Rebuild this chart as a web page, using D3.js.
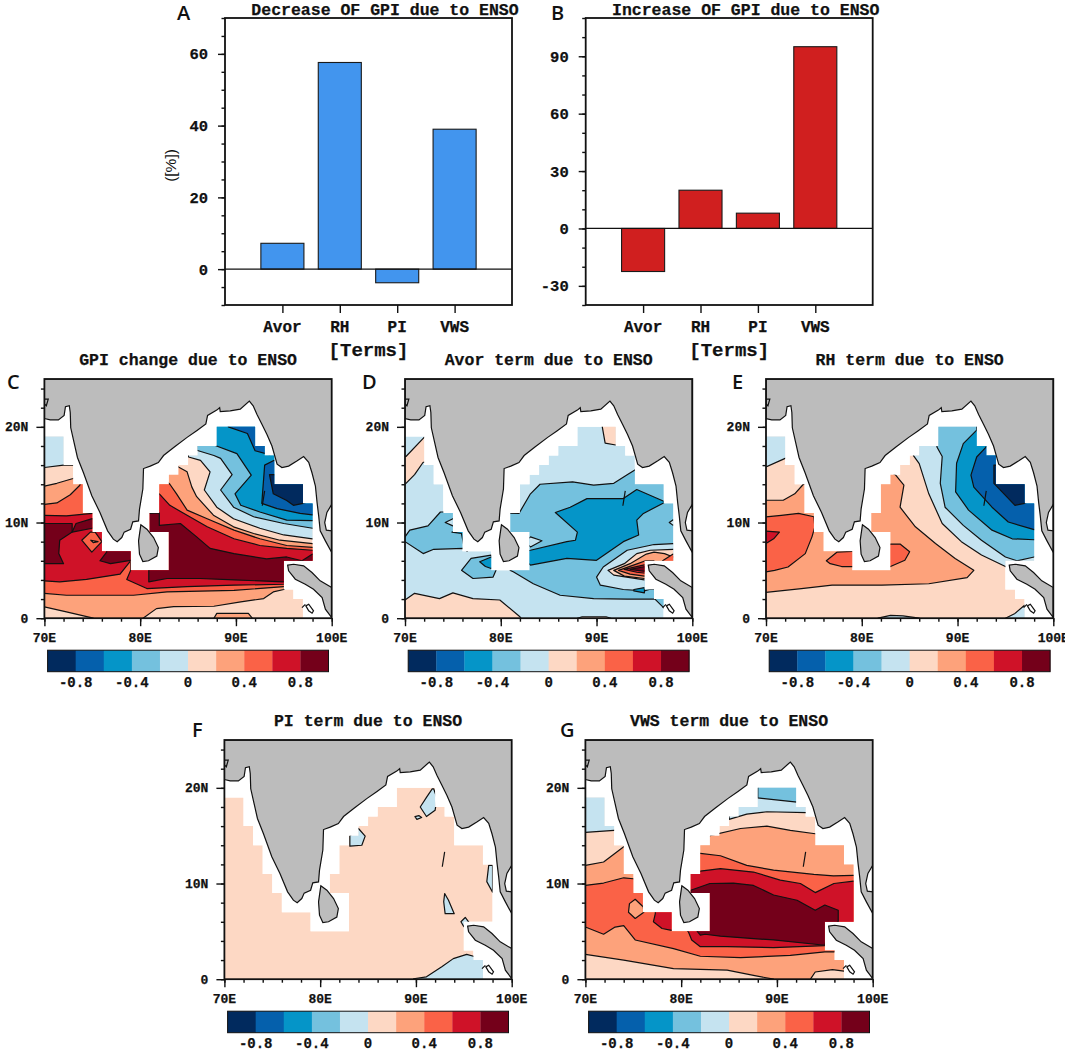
<!DOCTYPE html>
<html><head><meta charset="utf-8">
<style>html,body{margin:0;padding:0;background:#fff}svg{display:block}</style>
<script src="https://cdnjs.cloudflare.com/ajax/libs/d3/7.8.5/d3.min.js"></script>
</head><body>
<svg id="c" width="1065" height="1051"></svg>
<script>
// ---------- bar chart data ----------
const terms = ["Avor","RH","PI","VWS"];
const decreaseValues = [7.2,57.6,-3.8,39];
const increaseValues = [-22.5,20,8,95];
const decreaseTicks = [0,20,40,60];
const increaseTicks = [-30,0,30,60,90];

// ---------- colour levels ----------
const levelColors = ["#012a5e","#0560ac","#0595c8","#74c1de","#c5e3f0","#fdd8c4","#fda27b","#fa6247","#cf1228","#74001a"];
const barLabels = [-0.8,-0.4,0,0.4,0.8];

// ---------- geography, lon/lat ----------
const seaMask = [[70,0],[70,19],[72,19],[72,16],[73,16],[73,14],[74,14],[74,11],[75,11],[75,9],[76,9],[76,7],[79,7],[79,5],[83,5],[83,9],[81,9],[81,11],[82,11],[82,14],[83,14],[83,15],[84,15],[84,16],[85,16],[85,17],[86,17],[86,18],[88,18],[88,20],[92,20],[92,18],[93,18],[93,17],[94,17],[94,14],[97,14],[97,12],[98,12],[98,6],[95,6],[95,3],[96,3],[96,2],[97,2],[97,0]];
const mainland = [[70,20.87],[70.6,20.73],[71.46,20.73],[72.06,21.2],[72.2,22.1],[72.6,22.2],[72.7,21.5],[72.75,19.9],[73.1,18.36],[73.45,16.8],[74.08,15.2],[74.95,12.8],[75.8,11.05],[76.6,9.13],[77.2,8.26],[77.6,8],[78.08,8.43],[78.33,9],[79,9.3],[79.23,10.07],[79.83,10.17],[79.93,11.4],[80.28,13.5],[80.35,15.64],[81.05,15.9],[81.9,16.27],[82.44,17],[83.5,17.84],[84.9,18.9],[85.9,19.6],[86.86,20.3],[87.04,21.2],[88,21.75],[88.3,22],[88.36,21.6],[89.4,21.67],[90.45,21.85],[91.4,22.7],[91.8,22.2],[92.2,21.3],[92.7,20.3],[93.24,19.2],[93.76,18],[94.3,16.1],[94.8,15.75],[95.5,15.9],[96.4,16.45],[97.07,16.9],[97.6,16.3],[97.94,15.2],[98.3,13.8],[98.47,12.1],[98.64,10.7],[98.8,9.13],[99.34,8.08],[100,6.86],[100,25],[70,25]];
const gulfThailand = [[100,11.9],[99.5,11.05],[99.27,10],[99.44,9.2],[100,9.13]];
const sriLanka = [[80.07,9.76],[80.7,9.3],[81.4,8.43],[81.9,7.39],[81.74,6.5],[80.87,6],[80.28,5.92],[79.93,6.69],[79.83,8.08]];
const sumatra = [[95.4,5.54],[96.03,5.64],[97.07,5.47],[97.94,4.77],[98.8,3.9],[100,3.2],[100,0.07],[99.34,0.94],[99,2.16],[98.1,3.03],[97.24,3.55],[96.2,4.08],[95.5,4.95]];
const nias = [[97.3,1.29],[97.6,1.46],[98.1,0.77],[97.95,0.52],[97.6,0.77]];
const andaman = [[93,13.3],[92.75,11.75]];
const kutch = [[70,22.9],[70.4,22.9],[70.2,22.2],[70,22.4]];
const islet = [[96.9,1.1],[97.25,1.45]];

// ---------- contour bands: [mid level, lon/lat ring], painted in order ----------
const gpiBase = 0.1;
const gpiBands = [
[0.3,[[69,1.2],[70,1.18],[72.3,0.66],[75.1,0],[75.3,-1],[80.3,-1],[80.3,0],[81.7,1],[83.5,1.2],[87.7,1.25],[90.5,1.7],[92.9,2.05],[93.9,2.75],[95,3],[95.5,3.5],[101,3.5],[101,7.8],[98,7.8],[94.6,8.15],[91.85,8.85],[89.75,9.55],[87.65,10.77],[85.9,12.7],[85.4,13.7],[84.9,15.3],[84,15.8],[83,17],[75,17],[74,15],[73,14.6],[71.3,14.1],[70,13.8],[69,13.8]]],
[0.3,[[87.7,0],[88,0.5],[91.3,0.5],[91.7,0],[91.7,-1],[87.7,-1]]],
[0.5,[[69,2.6],[70,2.6],[72.3,2.4],[75.8,2.4],[79.3,2.4],[82.8,2.75],[89.8,2.9],[95,3.3],[96,4],[101,4],[101,7.5],[98,7.4],[95.3,7.6],[92.5,8.3],[89.8,9.2],[87,10.4],[84.9,11.3],[83.8,13],[83.1,14],[82,15],[74,15],[73.7,13.9],[72.7,12.9],[71.3,12.05],[70,11.9],[69,11.9]]],
[0.7,[[69,3.9],[70,3.9],[71.6,3.8],[74.4,4.05],[77.9,4.6],[79,6],[79,5],[78.6,4.05],[80.7,3.1],[84.9,3.3],[89.8,3.45],[95,3.55],[96,4],[101,4],[101,7.2],[98,7.1],[95.3,7.3],[92.5,7.6],[89.8,8.3],[87,9.55],[84.9,10.75],[83.1,11.8],[82,13],[81.5,13],[81,12],[76,12],[75,10.95],[72.3,10.7],[70,10.75],[69,10.75]]],
[0.5,[[73.9,8.15],[74.8,9],[75.3,9],[76,8],[74.95,6.9]]],
[0.3,[[74.85,8.15],[75.6,8],[75.1,7.9]]],
[0.9,[[80.5,11],[81,10.95],[82,11],[82,9.7],[84.2,9.9],[85.9,8.5],[87.3,7.3],[89.8,6.75],[93.2,6.2],[95.3,6.4],[96.9,6],[98,6.7],[99,6.7],[99,3.7],[95,3.8],[89.8,4],[86.3,4.15],[82.8,4.15],[80.9,3.8],[80.9,5],[80.5,9]]],
[0.9,[[69,9.9],[70,9.9],[72.9,9.9],[72.9,9],[71.6,8.15],[71.5,6.75],[72,5.7],[70,5.7],[69,5.7]]],
[0.9,[[73.3,9.9],[75,10.4],[75.5,10.4],[75.5,9.4],[75,9.4],[72.9,9]]],
[0.9,[[75.8,6],[76.5,6.9],[76.5,7.5],[79.5,7.5],[79.5,6.1],[79,6.05],[76.9,5.7]]],
[-0.1,[[85,17.2],[85.05,16.85],[86.3,16.5],[87.3,15.3],[86.7,13.4],[88,11.6],[89.75,10.4],[92.5,9.4],[95,8.7],[98,8.3],[100,8.3],[100,21],[85,21]]],
[-0.1,[[69,15.9],[70,15.75],[72,16],[73,16],[73,20],[69,20]]],
[-0.3,[[85.9,18.5],[85.9,17.55],[87.7,17],[88.4,16.7],[89.6,15],[88.4,13.4],[89.75,11.6],[91.85,10.6],[95,9.9],[98,9.4],[100,9.4],[100,21],[85.9,21]]],
[-0.5,[[87.7,21],[87.7,18.1],[90.1,17.2],[91.6,14.95],[89.9,13],[90.5,11.8],[92.5,11.1],[95.3,10.25],[98,10.2],[100,10.2],[100,21]]],
[-0.7,[[89.2,20.5],[89.2,20],[91.2,19.3],[92,17.5],[93.5,17.1],[93.5,21]]],
[-0.7,[[94,16.5],[93,16],[92.7,12],[94.3,11.45],[96.7,10.95],[98,10.8],[100,10.8],[100,16.5]]],
[-0.9,[[93.5,15],[93.9,13],[95.3,12.3],[96,11.8],[97,12],[98,12.3],[98,15]]]
];

const avorBase = -0.1;
const avorBands = [
[0.1,[[69,1.9],[70,1.9],[71,2.6],[73.6,2.05],[75,2.65],[77.1,2.05],[79.9,1.9],[82,0.15],[82.8,-1],[69,-1]]],
[0.1,[[69.5,14],[70,14],[71,15],[71.9,16.3],[73,16.3],[73,19.5],[72,18.9],[70.1,16.9],[69.5,16.9]]],
[0.1,[[90.6,21],[90.6,20],[90.9,18.3],[92,18.1],[92.5,18.1],[92.5,21]]],
[0.1,[[88,-1],[88,0],[88.5,0.15],[91,0.15],[91.5,0],[91.5,-1]]],
[-0.3,[[80.5,11],[81.9,10.95],[83.1,13],[84.1,14],[87.5,14.25],[89.7,13.9],[91.8,14.1],[93.2,15],[94,15.5],[99,15.5],[99,1],[97.1,1],[96.1,2],[93.2,2],[89.7,2.05],[86.2,2.4],[83.4,3.6],[81.3,4.85],[81,5],[80.5,5.5]]],
[-0.3,[[70,8.5],[70.5,9.2],[72.4,9.65],[73.7,11.1],[75,11.1],[76,11],[76.5,7],[76.1,7.3],[73,7.2],[71.9,6.75],[70,8],[69,8],[69,8.5]]],
[-0.1,[[75,10.4],[74.2,10],[75,9.65],[76,10]]],
[-0.5,[[74.9,9],[75.9,8.85],[76.1,7.8],[76.5,8],[76.5,9.2]]],
[-0.3,[[75.9,5],[76.9,6.25],[79,6.6],[79.5,6],[79.5,5],[79.2,4.3],[77.1,4.15]]],
[-0.5,[[77.8,5.9],[79,6.4],[79.5,6],[79.5,5.4],[79,5.2],[78.4,5.4]]],
[-0.1,[[83.1,8.5],[84.3,8.1],[83.1,7.45],[82.5,8]]],
[-0.5,[[85.7,11.05],[87.25,11.6],[89,12.5],[92.8,12.5],[94.2,13.45],[97.2,12.15],[94.9,10.95],[94.2,10.25],[94.4,8.7],[92.8,8],[90,6.05],[86.9,6.25],[83.1,5.55],[82.5,6],[82.5,7],[83.1,7.1],[86.9,8],[87.8,8.15],[88,9]]],
[-0.1,[[98,10.3],[97.6,10],[98,9.7],[98.5,10]]],
[-0.1,[[98,7.8],[96,7.7],[93.2,7.1],[90.7,5.35],[90,4.3],[90.4,3.45],[92.8,3],[95,2.85],[95.5,3],[99,3],[99,7.8]]],
[-0.5,[[93.9,3],[95,3.2],[95,2.65],[93.9,2.85]]],
[0.1,[[91.2,5],[92.9,5.7],[94.2,6.75],[95.6,7.1],[98,7.2],[99,7.2],[99,5],[95,4],[91.8,4.5]]],
[0.3,[[91.8,5],[93.5,5.7],[95.2,6.7],[96,6.9],[97.1,6.75],[98,6.4],[99,6.4],[99,5],[95,4.15],[92.9,4.4]]],
[0.5,[[92.3,5],[94.3,5.7],[95.1,6],[96,6],[95.5,4.3],[95,4.4],[93.5,4.6]]],
[0.5,[[96.9,6],[98,6.7],[99,6.7],[99,5.5],[96.9,5.5]]],
[0.7,[[92.9,5.1],[95.1,5.6],[95.5,5],[95.1,4.7],[94.2,4.8]]],
[0.9,[[93.5,5.1],[95.1,5.4],[95.1,4.9]]]
];

const rhBase = 0.1;
const rhBands = [
[-0.1,[[69,15.8],[70,15.8],[72,16.7],[73,17],[73,20],[69,20]]],
[-0.1,[[95,-1],[95,0],[96,0.5],[97,1.35],[97.5,1],[97.5,-1]]],
[-0.1,[[81.7,-1],[81.7,0],[83,0.3],[84.3,0.25],[86,0],[86,-1]]],
[0.3,[[83,15.3],[83.5,15],[84.4,13.9],[84,11.6],[85.6,9.55],[87.7,7.8],[89.75,6.25],[91.7,5],[91,4.25],[87,3.6],[82.1,3.45],[76.9,3.45],[73.7,3.1],[70,2.7],[69,2.7],[69,12.33],[70,12.33],[71.8,12.33],[73,13],[73.9,14],[76,14],[76,15.3]]],
[0.5,[[69,10.6],[70,10.6],[71.6,10.75],[73.4,10.95],[75,10.6],[75.1,9.55],[74.8,8.5],[74.1,6.75],[72.3,5.35],[70.9,5],[70,4.85],[69,4.85]]],
[0.7,[[69,9.1],[70,9.1],[71.4,9],[70.8,8.3],[70,7.8],[69,7.8]]],
[0.5,[[76.3,6],[77.4,6.9],[79.5,7],[79.5,5.4],[77.9,5.4],[76.7,5.7]]],
[0.5,[[82.5,7.75],[84,7.75],[85,6.95],[84.5,6.05],[83,5.4],[82.5,5.4]]],
[-0.1,[[85.4,21],[85.4,17],[86,16.15],[87,13],[88.4,9.9],[90.4,8],[92.5,6.6],[95,5.4],[96,5.5],[100,5.5],[100,21]]],
[-0.3,[[87.85,21],[87.85,17.9],[88.4,16.9],[88.2,14.1],[88.7,11.6],[90.6,9.7],[92.5,8.15],[95,6.4],[96.2,6],[98,6.4],[100,6.4],[100,21]]],
[-0.5,[[92,21],[92,19.65],[90.6,18.25],[89.9,16.2],[89.8,13.2],[91.15,11.3],[93.6,9.2],[95.7,8.3],[98,8.2],[100,8.2],[100,21]]],
[-0.7,[[93,18.5],[93,17.9],[92,16.85],[91.4,14.95],[91.7,13.7],[93.6,11.6],[95.3,10.05],[98,9.25],[100,9.25],[100,20]]],
[-0.9,[[93.8,16],[93.8,15.1],[93.8,14.1],[96,11.8],[97,12],[98,12.5],[98,16]]]
];

const piBase = 0.1;
const piBands = [
[-0.1,[[91.1,19],[90.45,18],[91.1,17],[92,17.65],[92.2,18.9],[91.85,19.9],[91.7,19.9]]],
[-0.1,[[89.9,17],[90.3,17.1],[90.6,16.9],[90.1,16.7]]],
[-0.1,[[83.1,15],[84,15.75],[84.7,14.95],[84.35,14],[83.1,13.9]]],
[-0.1,[[97.6,11.9],[98,11.9],[98,9.1],[97.4,10.2]]],
[-0.1,[[93,8.95],[93.4,8.25],[94,6.85],[93.05,6.85],[92.9,8.1]]],
[-0.1,[[94.7,6],[95.15,6.45],[95.5,6],[95,5.5]]],
[-0.1,[[89.75,-1],[89.75,0.05],[91.1,0.25],[92.7,1.3],[93.9,2.15],[95.3,2.6],[96.2,2.35],[97.5,2],[97.5,-1]]]
];

const vwsBase = 0.1;
const vwsBands = [
[-0.1,[[69,15.35],[70,15.35],[73,15.55],[73.5,15.55],[73.5,20],[69,20]]],
[-0.1,[[85,21],[85,16.7],[86.85,17.25],[88.95,17.5],[93.1,17.4],[94,17.4],[94,21]]],
[-0.3,[[88,21],[88,18.95],[92.1,18.5],[93,18.5],[93,21]]],
[0.3,[[83,15],[86.2,15.75],[88.95,16],[91.4,15.55],[94,15.2],[99,15.2],[99,0.85],[97,0.85],[95.8,1],[94,0.75],[93.5,0],[93.5,-1],[89.65,-1],[89.65,0],[87.55,0.4],[84.8,0.95],[79.2,1.1],[74,2],[70,2.6],[69,2.6],[69,11.9],[70,11.9],[71.9,12.25],[74,13.85],[76,14],[76,15.2]]],
[0.5,[[81.5,13.15],[82,13.15],[84.1,12.9],[86.85,11.9],[89.65,11.4],[93.85,10.95],[95.9,10.8],[98,10.85],[99,10.85],[99,3.5],[96,3.5],[96.1,2.85],[95,2.85],[91.4,2.5],[86.2,2.25],[82,2.4],[79.2,3.2],[75.2,4.1],[74,5.6],[73.1,5.45],[71.9,4.7],[70,5.45],[69,5.45],[69,9.8],[70,9.8],[71.9,10.05],[74,10.6],[75,10.5],[76,10.5],[76.5,14]]],
[0.3,[[74.5,7],[74.6,7.9],[75.2,8.35],[76.05,7.55],[76.1,7],[75.2,6.35]]],
[0.7,[[80.5,11.05],[81,11.05],[82,11.3],[84.1,11.55],[87.55,11.2],[90.35,10.35],[92.45,10],[94,9.05],[95.95,10],[98,10.25],[99,10.25],[99,6],[96,5],[95,3.5],[89.65,3.3],[84.8,3.4],[82,3.4],[81.1,4.1],[80.75,4.95],[80.5,5.2]]],
[0.7,[[77.3,6.85],[77.1,6],[78,5.3],[79,5.1],[79.5,5.1],[79.5,7.2],[77.3,7.2]]],
[0.9,[[81,9.3],[83,10],[85.45,10.05],[87.55,9.8],[89.65,8.8],[92.1,8.25],[94,7.2],[95,7.75],[96.4,7.2],[96.4,6],[95.5,5.5],[95,3.55],[89.65,4.1],[84.1,4.5],[82.5,4.7],[82,4.6],[81.6,5.1],[81,6]]]
];

// ---------- layout ----------
const svg = d3.select("#c");
const FONT = "'Liberation Mono',monospace";
const mapPanels = [
 {letter:"C",lx:7,  ly:389,title:"GPI change due to ENSO",x:44.4,y:379,base:gpiBase,bands:gpiBands},
 {letter:"D",lx:362,ly:389,title:"Avor term due to ENSO",x:405,y:379,base:avorBase,bands:avorBands},
 {letter:"E",lx:732,ly:389,title:"RH term due to ENSO",x:766,y:379,base:rhBase,bands:rhBands},
 {letter:"F",lx:192,ly:737,title:"PI term due to ENSO",x:224.4,y:740,base:piBase,bands:piBands},
 {letter:"G",lx:560,ly:737,title:"VWS term due to ENSO",x:585.4,y:740,base:vwsBase,bands:vwsBands}
];
const W = 287.3, H = 239.2;
const bandColor = d3.scaleQuantize().domain([-1,1]).range(levelColors);

function txt(g,x,y,s,size,anchor,opt={}){
  const t = g.append("text").attr("x",x).attr("y",y).text(s)
    .attr("font-family",opt.family||FONT).attr("font-weight",opt.weight||"bold")
    .attr("font-size",size).attr("text-anchor",anchor||"middle").attr("fill",opt.fill||"#111");
  if(!opt.family) t.attr("stroke","#111").attr("stroke-width",0.25);
  return t;
}
function styleAxis(a,w){ a.selectAll("path").remove(); a.selectAll("line").attr("stroke","#111").attr("stroke-width",w||1.4); a.selectAll("text").remove(); }

// ---------- bar panels ----------
function barPanel(opts){
  const g = svg.append("g");
  const x = d3.scaleLinear().domain([0,5]).range([opts.x,opts.x+287]);
  const y = d3.scaleLinear().domain(opts.domain).range([opts.y+287,opts.y]);
  const bw = x(0.75)-x(0);
  g.selectAll("rect.bar").data(opts.values).join("rect").attr("class","bar")
    .attr("x",(d,i)=>x(i+1)-bw/2).attr("width",bw)
    .attr("y",d=>y(Math.max(d,0))).attr("height",d=>Math.abs(y(d)-y(0)))
    .attr("fill",opts.color).attr("stroke","#1a1a1a").attr("stroke-width",1.1);
  g.append("line").attr("x1",x(0)).attr("x2",x(5)).attr("y1",y(0)).attr("y2",y(0)).attr("stroke","#111").attr("stroke-width",1.2);
  g.append("rect").attr("x",x(0)).attr("y",y.range()[1]).attr("width",287).attr("height",287).attr("fill","none").attr("stroke","#111").attr("stroke-width",1.8);
  const minor = d3.range(opts.domain[0],opts.domain[1]+0.01,opts.minor);
  styleAxis(g.append("g").attr("transform",`translate(${x(0)},0)`).call(d3.axisLeft(y).tickValues(minor).tickSize(3.5)));
  styleAxis(g.append("g").attr("transform",`translate(${x(0)},0)`).call(d3.axisLeft(y).tickValues(opts.ticks).tickSize(7)));
  styleAxis(g.append("g").attr("transform",`translate(0,${opts.y+287})`).call(d3.axisBottom(x).tickValues([1,2,3,4]).tickSize(8)));
  opts.ticks.forEach(t=>txt(g,x(0)-17,y(t)+5.5,String(t),15.5,"end"));
  terms.forEach((t,i)=>txt(g,x(i+1),332,t,16,"middle"));
  txt(g,x(2.5),356,"[Terms]",19,"middle");
  txt(g,opts.x+160,15,opts.title,16.5,"middle");
  txt(g,opts.letterX,20,opts.letter,20,"start",{family:"'Open Sans',sans-serif",weight:"600"});
  if(opts.ylabel){
    const t = txt(g,0,0,opts.ylabel,15.5,"middle",{family:"'Liberation Sans',sans-serif",weight:"normal"});
    t.attr("transform",`translate(${x(0)-49},${y(30)+4}) rotate(-90)`);
  }
}
barPanel({x:225,y:18,domain:[-10,70],values:decreaseValues,ticks:decreaseTicks,minor:5,color:"#4295ee",title:"Decrease OF GPI due to ENSO",letter:"A",letterX:177,ylabel:"([%])"});
barPanel({x:585.7,y:18,domain:[-40,110],values:increaseValues,ticks:increaseTicks,minor:10,color:"#d01f1f",title:"Increase OF GPI due to ENSO",letter:"B",letterX:551});

// ---------- map panels ----------
mapPanels.forEach((p,idx)=>{
  const g = svg.append("g");
  const x = d3.scaleLinear().domain([70,100]).range([p.x,p.x+W]);
  const y = d3.scaleLinear().domain([0,25]).range([p.y+H,p.y]);
  const line = d3.line().x(d=>x(d[0])).y(d=>y(d[1]));
  const ring = pts=>line(pts)+"Z";
  const defs = g.append("defs");
  defs.append("clipPath").attr("id","m"+idx).append("path").attr("d",ring(seaMask));
  defs.append("clipPath").attr("id","f"+idx).append("rect").attr("x",p.x).attr("y",p.y).attr("width",W).attr("height",H);
  const sea = g.append("g").attr("clip-path",`url(#m${idx})`);
  sea.append("path").attr("d",ring(seaMask)).attr("fill",bandColor(p.base));
  sea.selectAll("path.band").data(p.bands).join("path").attr("class","band")
    .attr("d",d=>ring(d[1])).attr("fill",d=>bandColor(d[0])).attr("stroke","#111").attr("stroke-width",1.2).attr("stroke-linejoin","round");
  const land = g.append("g").attr("clip-path",`url(#f${idx})`);
  const gray = "#bcbcbc";
  land.append("path").attr("d",ring(mainland)).attr("fill",gray).attr("stroke","#111").attr("stroke-width",1.2);
  land.append("path").attr("d",ring(gulfThailand)).attr("fill","#fff").attr("stroke","#111").attr("stroke-width",1.2);
  land.append("path").attr("d",ring(sriLanka)).attr("fill",gray).attr("stroke","#111").attr("stroke-width",1.2);
  land.append("path").attr("d",ring(sumatra)).attr("fill",gray).attr("stroke","#111").attr("stroke-width",1.2);
  land.append("path").attr("d",ring(nias)).attr("fill","#fff").attr("stroke","#111").attr("stroke-width",1.2);
  [andaman,kutch,islet].forEach(l=>land.append("path").attr("d",line(l)).attr("fill","none").attr("stroke","#111").attr("stroke-width",1.2));
  g.append("rect").attr("x",p.x).attr("y",p.y).attr("width",W).attr("height",H).attr("fill","none").attr("stroke","#111").attr("stroke-width",1.8);
  // axes
  const lonMinor = d3.range(70,101,2), latMinor = d3.range(0,25,2);
  styleAxis(g.append("g").attr("transform",`translate(0,${p.y+H})`).call(d3.axisBottom(x).tickValues(lonMinor).tickSize(3.5)));
  styleAxis(g.append("g").attr("transform",`translate(0,${p.y+H})`).call(d3.axisBottom(x).tickValues([70,80,90,100]).tickSize(8)));
  styleAxis(g.append("g").attr("transform",`translate(${p.x},0)`).call(d3.axisLeft(y).tickValues(latMinor).tickSize(3.5)));
  styleAxis(g.append("g").attr("transform",`translate(${p.x},0)`).call(d3.axisLeft(y).tickValues([0,10,20]).tickSize(8)));
  [70,80,90,100].forEach(v=>txt(g,x(v),p.y+H+24,v+"E",13,"middle"));
  [[0,"0"],[10,"10N"],[20,"20N"]].forEach(([v,s])=>txt(g,p.x-16,y(v)+4.5,s,13,"end"));
  txt(g,x(85),p.y-14,p.title,16.5,"middle");
  txt(g,p.lx,p.ly,p.letter,20,"start",{family:"'Open Sans',sans-serif",weight:"600"});
  // colour bar
  const cb = d3.scaleLinear().domain([-1,1]).range([p.x+3.2,p.x+W-3.2]);
  const cy = p.y+H+32;
  g.selectAll("rect.lev").data(levelColors).join("rect").attr("class","lev")
    .attr("x",(d,i)=>cb(-1+i*0.2)).attr("width",cb(-0.8)-cb(-1)+0.3).attr("y",cy).attr("height",21.5).attr("fill",d=>d);
  g.append("rect").attr("x",cb(-1)).attr("y",cy).attr("width",cb(1)-cb(-1)).attr("height",21.5).attr("fill","none").attr("stroke","#111").attr("stroke-width",1);
  barLabels.forEach(v=>txt(g,cb(v),cy+37,v===0?"0":v.toFixed(1),14,"middle"));
});
</script>
</body></html>
